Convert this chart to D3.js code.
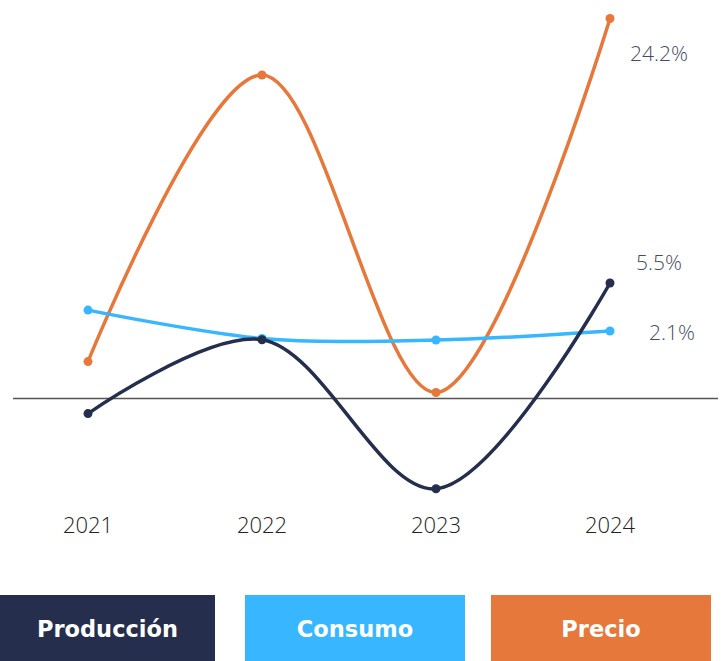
<!DOCTYPE html>
<html><head><meta charset="utf-8">
<script src="https://cdn.jsdelivr.net/npm/d3@7"></script>
<style>body{margin:0;background:#fff}svg{display:block}</style>
</head><body>
<script>
const years = ["2021","2022","2023","2024"];
const produccion = [-0.72, 2.8, -4.3, 5.5];
const consumo = [2.75, 1.87, 1.82, 2.1];
const precio = [2.35, 20.6, 0.38, 24.2];
const seriesNames = ["Producción","Consumo","Precio"];
const colors = ["#252E4C","#38B6FF","#E5783A"];
const endLabels = ["5.5%","2.1%","24.2%"];

const W=725,H=661;
const svg=d3.select("body").append("svg").attr("width",W).attr("height",H);
const x=d3.scalePoint().domain(years).range([88,610]);
const zeroY=398.5;
// each series drawn on its own vertical scale sharing the zero baseline
const yP=d3.scaleLinear().domain([0,5.5]).range([zeroY,283]);
const yC=d3.scaleLinear().domain([0,2.1]).range([zeroY,331]);
const yR=d3.scaleLinear().domain([0,24.2]).range([zeroY,18.5]);
const series=[
 {name:seriesNames[0],vals:produccion,y:yP,color:colors[0],label:endLabels[0]},
 {name:seriesNames[1],vals:consumo,y:yC,color:colors[1],label:endLabels[1]},
 {name:seriesNames[2],vals:precio,y:yR,color:colors[2],label:endLabels[2]}
];

svg.append("line").attr("x1",13).attr("x2",718).attr("y1",zeroY).attr("y2",zeroY)
 .attr("stroke","#555").attr("stroke-width",1.5);

const drawOrder=[2,1,0];
drawOrder.forEach(i=>{
 const s=series[i];
 const line=d3.line().x((d,j)=>x(years[j])).y(d=>s.y(d)).curve(d3.curveCatmullRom.alpha(0.5));
 svg.append("path").attr("d",line(s.vals)).attr("fill","none").attr("stroke",s.color).attr("stroke-width",3.5);
 svg.selectAll(null).data(s.vals).enter().append("circle")
  .attr("cx",(d,j)=>x(years[j])).attr("cy",d=>s.y(d)).attr("r",4.5).attr("fill",s.color);
});

// end labels
const labPos=[{x:659,y:263},{x:672,y:333},{x:659,y:54}];
series.forEach((s,i)=>{
 svg.append("text").attr("x",labPos[i].x).attr("y",labPos[i].y).attr("dy","0.35em")
  .attr("text-anchor","middle").attr("font-family","Open Sans").attr("font-weight",300)
  .attr("font-size",21).attr("fill","#454B63").text(s.label);
});

// x axis labels
svg.selectAll(null).data(years).enter().append("text")
 .attr("x",d=>x(d)).attr("y",525).attr("dy","0.35em").attr("text-anchor","middle")
 .attr("font-family","Open Sans").attr("font-weight",300).attr("font-size",22).attr("fill","#222").text(d=>d);

// legend
const boxes=[{x:0,w:215},{x:245,w:220},{x:491,w:220}];
series.forEach((s,i)=>{
 svg.append("rect").attr("x",boxes[i].x).attr("y",595).attr("width",boxes[i].w).attr("height",66).attr("fill",s.color);
 svg.append("text").attr("x",boxes[i].x+boxes[i].w/2).attr("y",629).attr("dy","0.35em")
  .attr("text-anchor","middle").attr("font-family","DejaVu Sans").attr("font-weight",700)
  .attr("font-size",22.5).attr("fill","#fff").text(s.name);
});
</script>
</body></html>
